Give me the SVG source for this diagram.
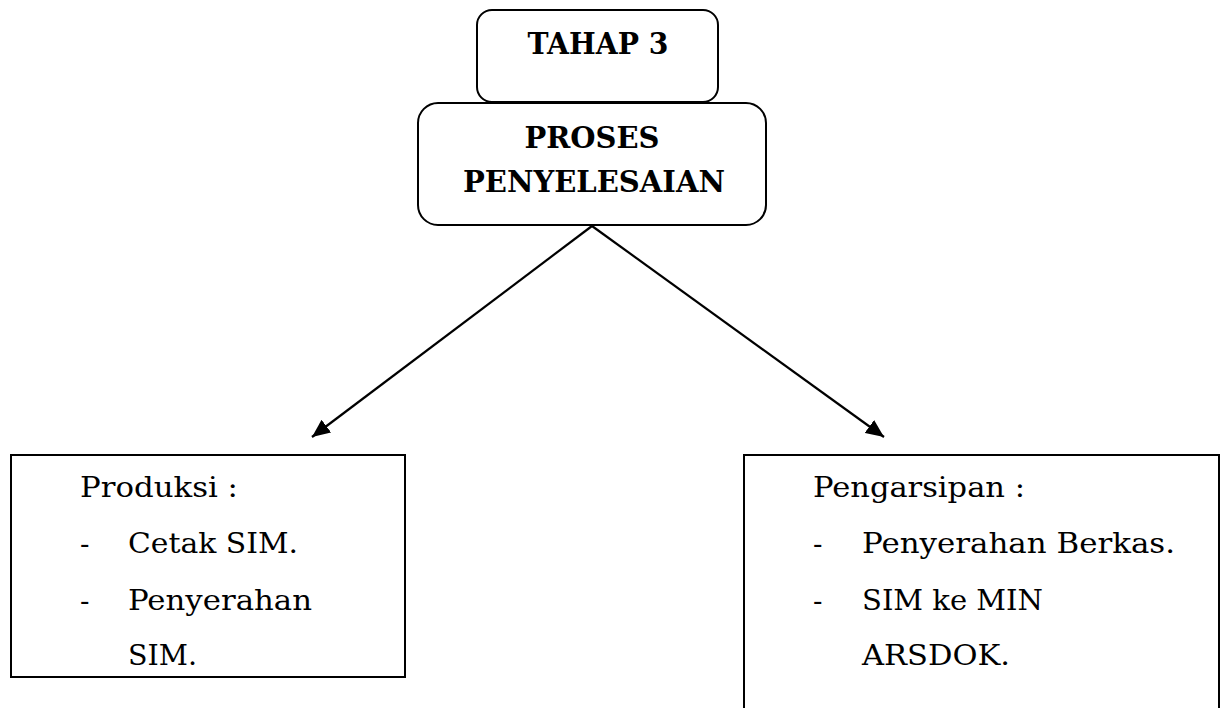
<svg xmlns="http://www.w3.org/2000/svg" width="1224" height="708" viewBox="0 0 1224 708">
<style>
.box{fill:#fff;stroke:#000;stroke-width:2}
.t{font-family:"DejaVu Serif","Liberation Serif",serif;font-size:28px;fill:#000}
.b{font-family:"DejaVu Serif","Liberation Serif",serif;font-size:29px;font-weight:bold;fill:#000;text-anchor:middle}
.con{stroke:#000;stroke-width:2.2;fill:none}
</style>
<defs>
<marker id="arr" markerUnits="userSpaceOnUse" markerWidth="20" markerHeight="16" refX="18" refY="8" orient="auto">
<path d="M0,0 L18,8 L0,16 z" fill="#000"/>
</marker>
</defs>
<rect width="1224" height="708" fill="#fff"/>
<g id="connectors">
<line class="con" x1="592" y1="226" x2="312" y2="437" marker-end="url(#arr)"/>
<line class="con" x1="592" y1="226" x2="884" y2="437" marker-end="url(#arr)"/>
</g>
<g id="tahap3">
<rect class="box" x="477" y="10" width="241" height="92" rx="15"/>
<text class="b" x="598" y="54" textLength="141" lengthAdjust="spacingAndGlyphs">TAHAP 3</text>
</g>
<g id="proses">
<rect class="box" x="418" y="103" width="348" height="122" rx="20"/>
<text class="b" x="592" y="148" textLength="135" lengthAdjust="spacingAndGlyphs">PROSES</text>
<text class="b" x="594" y="192" textLength="262" lengthAdjust="spacingAndGlyphs">PENYELESAIAN</text>
</g>
<g id="produksi">
<rect class="box" x="11" y="455" width="394" height="222"/>
<text class="t" x="80" y="497" textLength="158" lengthAdjust="spacingAndGlyphs">Produksi :</text>
<text class="t" x="80" y="553">-</text>
<text class="t" x="128" y="553" textLength="170" lengthAdjust="spacingAndGlyphs">Cetak SIM.</text>
<text class="t" x="80" y="610">-</text>
<text class="t" x="128" y="610" textLength="184" lengthAdjust="spacingAndGlyphs">Penyerahan</text>
<text class="t" x="128" y="665" textLength="69" lengthAdjust="spacingAndGlyphs">SIM.</text>
</g>
<g id="pengarsipan">
<rect class="box" x="744" y="455" width="475" height="260"/>
<text class="t" x="813" y="497" textLength="212" lengthAdjust="spacingAndGlyphs">Pengarsipan :</text>
<text class="t" x="813" y="553">-</text>
<text class="t" x="862" y="553" textLength="313" lengthAdjust="spacingAndGlyphs">Penyerahan Berkas.</text>
<text class="t" x="813" y="610">-</text>
<text class="t" x="862" y="610" textLength="181" lengthAdjust="spacingAndGlyphs">SIM ke MIN</text>
<text class="t" x="862" y="665" textLength="148" lengthAdjust="spacingAndGlyphs">ARSDOK.</text>
</g>
</svg>
